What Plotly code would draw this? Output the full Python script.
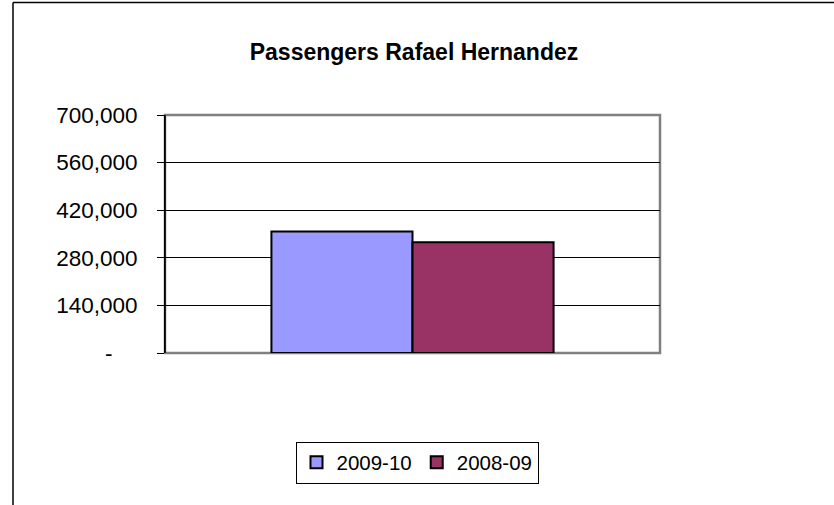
import plotly.graph_objects as go

categories = [""]
series_names = ["2009-10", "2008-09"]
values_2009_10 = [357000]
values_2008_09 = [325500]
tick_vals = [0, 140000, 280000, 420000, 560000, 700000]
tick_text = ["-\u00a0\u00a0\u00a0\u00a0", "140,000", "280,000", "420,000", "560,000", "700,000"]
colors = ["#9999FF", "#993366"]

fig = go.Figure()
fig.add_trace(go.Bar(x=categories, y=values_2009_10, name=series_names[0],
                     marker=dict(color=colors[0], line=dict(color="black", width=2))))
fig.add_trace(go.Bar(x=categories, y=values_2008_09, name=series_names[1],
                     marker=dict(color=colors[1], line=dict(color="black", width=2))))

L, R, T, B = 165, 660, 115, 353
W, H = 834, 505

def px_x(px):
    return (px - L) / (R - L)

def px_y(py):
    return (B - py) / (B - T)

fig.update_layout(
    width=W, height=H,
    margin=dict(l=L, r=W - R, t=T, b=H - B),
    paper_bgcolor="white", plot_bgcolor="white",
    font=dict(family="Liberation Sans, Arial, sans-serif", color="black", size=22),
    title=dict(text="<b>Passengers Rafael Hernandez</b>", x=px_x(414), xanchor="center",
               xref="paper", y=1 - 52 / H, yanchor="middle", font=dict(size=23, color="black")),
    barmode="group", bargap=0.43, bargroupgap=0,
    showlegend=True,
    legend=dict(orientation="h", x=px_x(417), xanchor="center", y=px_y(462.5), yanchor="middle",
                bordercolor="black", borderwidth=1, bgcolor="white",
                font=dict(size=20.5), itemwidth=30, tracegroupgap=0),
    xaxis=dict(showticklabels=False, showgrid=False, zeroline=False, showline=False, ticks=""),
    yaxis=dict(range=[0, 700000], tickvals=tick_vals, ticktext=tick_text,
               showgrid=True, gridcolor="black", gridwidth=1, zeroline=False,
               showline=True, linecolor="black", linewidth=1,
               ticks="outside", ticklen=7, tickcolor="black",
               tickfont=dict(size=22.5), ticklabelstandoff=15),
    shapes=[
        dict(type="rect", xref="paper", yref="paper", x0=0, x1=1, y0=0, y1=1,
             line=dict(color="#808080", width=2.5), layer="below"),
        dict(type="line", xref="paper", yref="paper", x0=px_x(13), x1=px_x(13),
             y0=px_y(2.5), y1=px_y(510), line=dict(color="black", width=1.5)),
        dict(type="line", xref="paper", yref="paper", x0=px_x(13), x1=px_x(840),
             y0=px_y(2.5), y1=px_y(2.5), line=dict(color="black", width=1.5)),
        dict(type="line", xref="paper", yref="paper", x0=0, x1=0,
             y0=0, y1=1, line=dict(color="black", width=1.5)),
    ],
)

fig.write_html("out.html", config={"displayModeBar": False},
               post_script="document.body.style.margin='0';")
